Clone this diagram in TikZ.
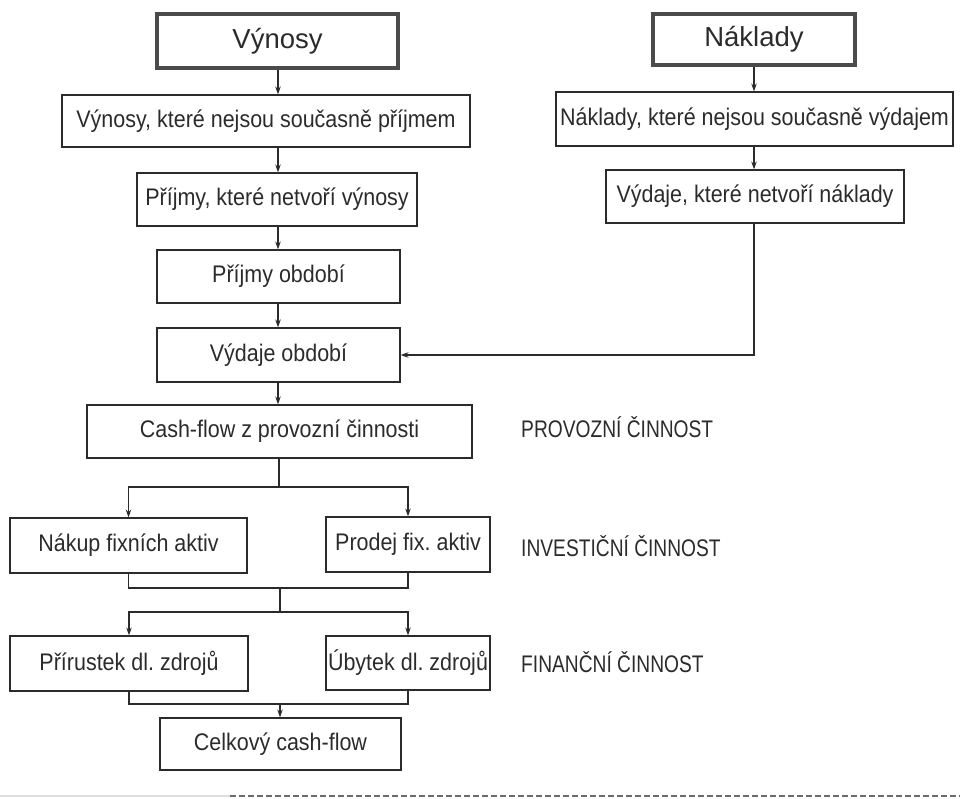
\documentclass[tikz,border=0pt]{standalone}
\usepackage{fontspec}
\setmainfont{Liberation Sans}
\newfontfamily\bodyf[FakeStretch=0.895]{Liberation Sans}
\newfontfamily\capsf[FakeStretch=0.8]{Liberation Sans}
\usetikzlibrary{arrows.meta}
\definecolor{ink}{HTML}{2B2B2B}
\frenchspacing
\begin{document}
\begin{tikzpicture}[x=1pt,y=-1pt,
  box/.style={draw=ink,line width=1.2pt,inner sep=0pt,font=\bodyf\fontsize{24}{28}\selectfont\frenchspacing,text=ink},
  head/.style={draw=ink!85,line width=4pt,inner sep=0pt,font=\fontsize{27.5}{32}\selectfont,text=ink},
  lab/.style={anchor=base west,inner sep=0pt,font=\capsf\fontsize{24}{28}\selectfont,text=ink},
  arr/.style={draw=ink,line width=1.2pt,-{Stealth[length=8pt,width=5.5pt]}},
  ln/.style={draw=ink,line width=1.2pt}]
\useasboundingbox (0,0) rectangle (960,798);
% left column
\node[head,minimum width=241,minimum height=54] (vyn) at (277.5,41) {Výnosy};
\node[box,minimum width=408,minimum height=52] (b2) at (266,121) {Výnosy, které nejsou současně příjmem};
\node[box,minimum width=280,minimum height=53] (b3) at (277,199.5) {Příjmy, které netvoří výnosy};
\node[box,minimum width=243,minimum height=53] (b4) at (278.5,276.5) {Příjmy období};
\node[box,minimum width=243,minimum height=54] (b5) at (278.5,355) {Výdaje období};
\node[box,minimum width=385,minimum height=53] (b6) at (279.5,431.5) {Cash-flow z provozní činnosti};
\node[box,minimum width=237,minimum height=55] (nak) at (128.5,545.5) {Nákup fixních aktiv};
\node[box,minimum width=164,minimum height=55] (pro) at (408,544.5) {Prodej fix.\ aktiv};
\node[box,minimum width=238,minimum height=55] (pri) at (129,663.5) {Přírustek dl.\ zdrojů};
\node[box,minimum width=164,minimum height=54] (uby) at (408,663) {Úbytek dl.\ zdrojů};
\node[box,minimum width=241,minimum height=52] (cel) at (280.5,744) {Celkový cash-flow};
% right column
\node[head,minimum width=202,minimum height=51] (nakl) at (754,39.5) {Náklady};
\node[box,minimum width=397,minimum height=54] (r2) at (754.5,119) {Náklady, které nejsou současně výdajem};
\node[box,minimum width=298,minimum height=53] (r3) at (755,196.5) {Výdaje, které netvoří náklady};
% labels
\node[lab] (l1) at (521,437) {PROVOZNÍ ČINNOST};
\node[lab] (l2) at (521,556) {INVESTIČNÍ ČINNOST};
\node[lab] (l3) at (521,672) {FINANČNÍ ČINNOST};
% connectors left
\coordinate (colx) at (278,0);
\draw[arr] (vyn.south -| colx) -- (b2.north -| colx);
\draw[arr] (b2.south -| colx) -- (b3.north -| colx);
\draw[arr] (b3.south -| colx) -- (b4.north -| colx);
\draw[arr] (b4.south -| colx) -- (b5.north -| colx);
\draw[arr] (b5.south -| colx) -- (b6.north -| colx);
\coordinate (j1) at (279,487);
\draw[ln] (b6.south -| j1) -- (j1);
\draw[arr] (j1) -| (nak.north);
\draw[arr] (j1) -| (pro.north);
\coordinate (m1) at (280,588);
\draw[ln] (nak.south) |- (m1);
\draw[ln] (pro.south) |- (m1);
\coordinate (j2) at (280,612);
\draw[ln] (m1) -- (j2);
\draw[arr] (j2) -| (pri.north);
\draw[arr] (j2) -| (uby.north);
\coordinate (m2) at (280,704);
\draw[ln] (pri.south) |- (m2);
\draw[ln] (uby.south) |- (m2);
\draw[arr] (m2) -- (cel.north -| m2);
% connectors right
\draw[arr] (nakl.south) -- (r2.north -| nakl.south);
\draw[arr] (r2.south -| nakl.south) -- (r3.north -| nakl.south);
\draw[arr] (r3.south -| nakl.south) |- (b5.east);
% bottom rule
\coordinate (d0) at (0,796);
\coordinate (d1) at (230,796);
\coordinate (d2) at (960,796);
\draw[line width=1.5pt,ink!15] (d0) -- (d1);
\draw[line width=1.5pt,ink!70,dash pattern=on 6pt off 3pt] (d1) -- (d2);
\end{tikzpicture}
\end{document}
